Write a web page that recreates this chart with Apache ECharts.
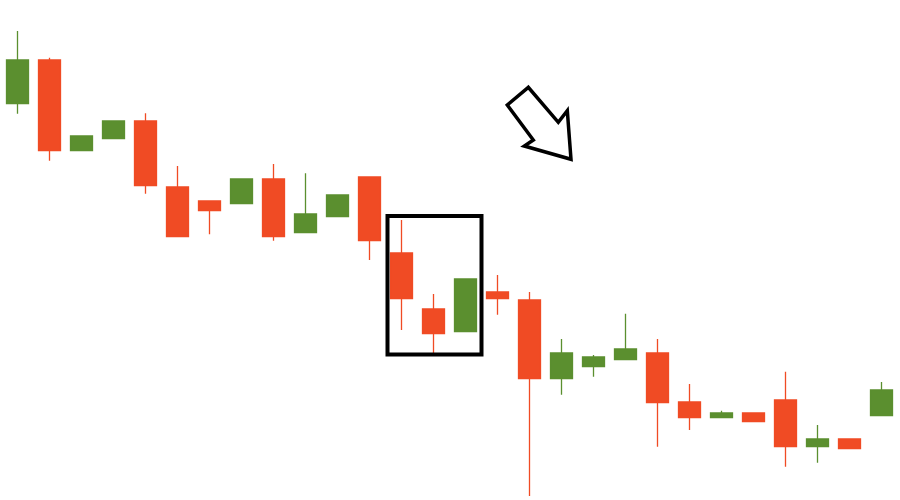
<!DOCTYPE html>
<html>
<head>
<meta charset="utf-8">
<script src="https://cdn.jsdelivr.net/npm/echarts@6/dist/echarts.min.js"></script>
<style>
  html, body { margin: 0; padding: 0; background: #fff; }
  #main { width: 900px; height: 500px; }
</style>
</head>
<body>
<div id="main"></div>
<script>
// sessions (no labels shown in the picture)
var days = [];
for (var i = 1; i <= 28; i++) days.push('D' + i);

// [open, close, low, high]
var opens  = [396.3, 440, 349.3, 361.3, 379, 313, 299, 296.3, 321, 267.3, 283.3, 323, 247, 191,
              168.3, 208, 200, 121.3, 133.3, 140.3, 147, 98, 82.3, 87, 100, 53.3, 61, 84.3];
var closes = [440, 349.3, 364, 379, 314.3, 263.3, 289.3, 321, 263.3, 286, 305, 259.3, 201.3, 166.3,
              221, 201.3, 121.3, 147, 143, 151, 97.3, 82.3, 87, 78.3, 53.3, 61, 51.3, 110];
var lows   = [386.3, 339.3, 349.3, 361.3, 306.3, 263.3, 265.7, 296.3, 259.3, 267.3, 283.3, 240, 170, 146,
              168.3, 185.3, 4, 105.3, 123.3, 140.3, 53.3, 70, 82.3, 78.3, 33.3, 37.3, 51.3, 84.3];
var highs  = [469, 442.3, 364, 379, 386.7, 334, 299, 321, 336, 326.7, 305, 323, 280, 206,
              221, 225, 208, 161, 145, 186.3, 161, 116, 89.3, 87, 128.3, 75, 61, 118];

// highlighted pattern: candles 13..15
var boxFrom = 12, boxTo = 14, boxTop = 284, boxBottom = 145.5;

var upColor = '#5b8f2f';
var downColor = '#f04b24';

var candles = [];
for (var k = 0; k < days.length; k++) {
    candles.push([opens[k], closes[k], lows[k], highs[k]]);
}

var myChart = echarts.init(document.getElementById('main'));
var option = {
    backgroundColor: '#ffffff',
    animation: false,
    grid: { left: 1.5, right: 2.5, top: 0, bottom: 0 },
    xAxis: {
        type: 'category',
        data: days,
        boundaryGap: true,
        axisLine: { show: false },
        axisTick: { show: false },
        axisLabel: { show: false },
        splitLine: { show: false }
    },
    yAxis: {
        type: 'value',
        min: 0,
        max: 500,
        axisLine: { show: false },
        axisTick: { show: false },
        axisLabel: { show: false },
        splitLine: { show: false }
    },
    series: [{
        type: 'candlestick',
        data: candles,
        barWidth: 21.7,
        itemStyle: {
            color: upColor,
            color0: downColor,
            borderColor: upColor,
            borderColor0: downColor,
            borderWidth: 1.3
        }
    }]
};
myChart.setOption(option);

// box around the pattern and the arrow pointing down
var half = 16;
var pL = myChart.convertToPixel({ gridIndex: 0 }, [boxFrom, boxTop]);
var pR = myChart.convertToPixel({ gridIndex: 0 }, [boxTo, boxBottom]);
var bx = pL[0] - half + 2, by = pL[1];
myChart.setOption({
    graphic: [{
        type: 'rect',
        shape: { x: bx, y: by, width: pR[0] + half - bx, height: pR[1] - by },
        style: { fill: 'none', stroke: '#000', lineWidth: 4 },
        z: 100
    }, {
        type: 'polygon',
        shape: {
            points: [[528.3, 87.3], [507.3, 105], [533.3, 140], [524.3, 146],
                     [571, 159.3], [567.3, 110.7], [558.3, 122.3]]
        },
        style: { fill: '#fff', stroke: '#000', lineWidth: 3.5, lineJoin: 'miter' },
        z: 100
    }]
});
</script>
</body>
</html>
